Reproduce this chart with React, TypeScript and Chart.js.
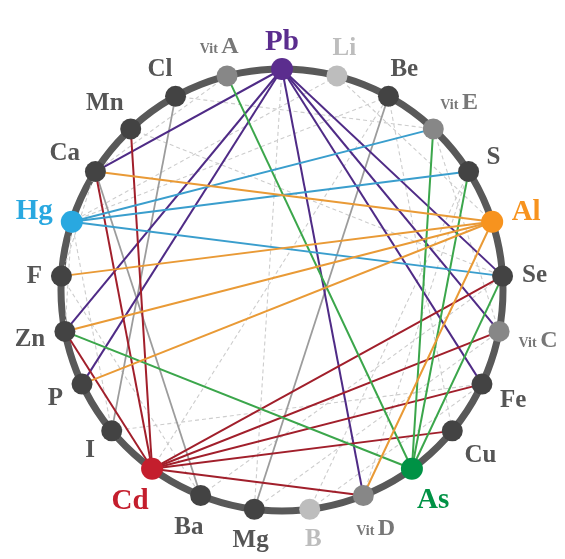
import { useEffect, useRef } from "react";
import { Chart, registerables } from "chart.js";

Chart.register(...registerables);

// Nodes clockwise from the top
const NODES = [
  "Pb", "Li", "Be", "VitE", "S", "Al", "Se", "VitC", "Fe", "Cu", "As", "VitD", "B",
  "Mg", "Ba", "Cd", "I", "P", "Zn", "F", "Hg", "Ca", "Mn", "Cl", "VitA",
];

const HUB_COLORS: Record<string, string> = {
  Pb: "#5b2d8e",
  Hg: "#29a8e0",
  Al: "#f7931e",
  Cd: "#c41e2d",
  As: "#009245",
};
const LINK_COLORS: Record<string, string> = {
  Pb: "#4f2b86",
  Hg: "#3a9ecd",
  Al: "#e99a36",
  Cd: "#a11f2b",
  As: "#3ba64b",
};
const LIGHT_NODES = ["Li", "B"];

const PB_LINKS = ["Ca", "Zn", "P", "VitD", "Fe", "VitC", "Se"];
const HG_LINKS = ["VitE", "S", "Se"];
const AL_LINKS = ["Ca", "F", "Zn", "P", "VitD"];
const CD_LINKS = ["Ca", "Mn", "Zn", "Se", "VitC", "Fe", "Cu", "VitD"];
const AS_LINKS = ["VitA", "VitE", "S", "Se", "Zn"];
const GRAY_LINKS: [string, string][] = [["Cl", "I"], ["Ca", "Ba"], ["Be", "Mg"]];
const DASHED_LINKS: [string, string][] = [
  ["Li", "Hg"], ["Li", "Al"], ["Pb", "Mg"], ["Cl", "VitE"], ["VitA", "Ca"],
  ["Be", "Hg"], ["Be", "Cu"], ["VitE", "VitC"], ["S", "B"], ["Mn", "Se"],
  ["Ca", "F"], ["Hg", "Zn"], ["Hg", "I"], ["F", "Ba"], ["Cd", "Be"],
  ["Ba", "Se"], ["Mg", "VitC"], ["B", "Fe"], ["VitD", "S"], ["I", "Fe"],
];

const CX = 282, CY = 290, R = 221, W = 565, H = 559;

function nodePos(name: string) {
  const a = (NODES.indexOf(name) * 2 * Math.PI) / NODES.length;
  return { x: Math.sin(a), y: Math.cos(a) };
}

function nodeColor(name: string) {
  if (HUB_COLORS[name]) return HUB_COLORS[name];
  if (LIGHT_NODES.includes(name)) return "#bdbdbd";
  if (name.startsWith("Vit")) return "#878787";
  return "#434343";
}

const FONT = "'Liberation Serif', 'Times New Roman', serif";

const ringPlugin = {
  id: "ring",
  beforeDatasetsDraw(chart: any) {
    const ctx = chart.ctx;
    const xs = chart.scales.x, ys = chart.scales.y;
    const cx = xs.getPixelForValue(0), cy = ys.getPixelForValue(0);
    const r = xs.getPixelForValue(1) - cx;
    ctx.save();
    ctx.beginPath();
    ctx.arc(cx, cy, r, 0, Math.PI * 2);
    ctx.strokeStyle = "#595959";
    ctx.lineWidth = 7;
    ctx.stroke();
    ctx.restore();
  },
};

const labelPlugin = {
  id: "labels",
  afterDatasetsDraw(chart: any) {
    const ctx = chart.ctx;
    const xs = chart.scales.x, ys = chart.scales.y;
    ctx.save();
    ctx.textBaseline = "alphabetic";
    ctx.textAlign = "left";
    NODES.forEach((name, i) => {
      const a = (i * 2 * Math.PI) / NODES.length;
      const dx = Math.sin(a), dy = -Math.cos(a);
      const p = nodePos(name);
      const px = xs.getPixelForValue(p.x), py = ys.getPixelForValue(p.y);
      const isHub = !!HUB_COLORS[name];
      const isVit = name.startsWith("Vit");
      let parts: { t: string; size: number }[];
      if (isVit) parts = [{ t: "Vit ", size: 14 }, { t: name.slice(3), size: 24 }];
      else parts = [{ t: name, size: isHub ? 29 : 25 }];
      let w = 0;
      const widths = parts.map((pt) => {
        ctx.font = `bold ${pt.size}px ${FONT}`;
        const m = ctx.measureText(pt.t).width;
        w += m;
        return m;
      });
      const maxSize = Math.max(...parts.map((pt) => pt.size));
      const h = maxSize * 0.66;
      const gap = 19;
      const off = gap + (w / 2) * Math.abs(dx) + (h / 2) * Math.abs(dy);
      const tcx = px + dx * off, tcy = py + dy * off;
      let x = tcx - w / 2;
      const base = tcy + h / 2;
      let color = "#555555";
      if (isHub) color = HUB_COLORS[name];
      else if (LIGHT_NODES.includes(name)) color = "#bdbdbd";
      else if (isVit) color = "#777777";
      ctx.fillStyle = color;
      parts.forEach((pt, k) => {
        ctx.font = `bold ${pt.size}px ${FONT}`;
        ctx.fillText(pt.t, x, base);
        x += widths[k];
      });
    });
    ctx.restore();
  },
};

export default function App() {
  const ref = useRef<HTMLCanvasElement | null>(null);

  useEffect(() => {
    if (!ref.current) return;
    const datasets: any[] = [];

    DASHED_LINKS.forEach(([a, b]) =>
      datasets.push({
        data: [nodePos(a), nodePos(b)],
        showLine: true,
        borderColor: "#cdcdcd",
        borderWidth: 1.1,
        borderDash: [4, 3],
        pointRadius: 0,
        order: 4,
      })
    );
    GRAY_LINKS.forEach(([a, b]) =>
      datasets.push({
        data: [nodePos(a), nodePos(b)],
        showLine: true,
        borderColor: "#9c9c9c",
        borderWidth: 1.8,
        pointRadius: 0,
        order: 3,
      })
    );
    const hubLinks: [string, string[]][] = [
      ["Al", AL_LINKS],
      ["Hg", HG_LINKS],
      ["As", AS_LINKS],
      ["Cd", CD_LINKS],
      ["Pb", PB_LINKS],
    ];
    hubLinks.forEach(([hub, list]) =>
      list.forEach((t) =>
        datasets.push({
          data: [nodePos(hub), nodePos(t)],
          showLine: true,
          borderColor: LINK_COLORS[hub],
          borderWidth: 2,
          pointRadius: 0,
          order: 2,
        })
      )
    );
    datasets.push({
      data: NODES.map(nodePos),
      showLine: false,
      pointRadius: NODES.map((n) => (HUB_COLORS[n] ? 11 : 10.5)),
      pointBackgroundColor: NODES.map(nodeColor),
      pointBorderWidth: 0,
      pointBorderColor: "rgba(0,0,0,0)",
      order: 0,
    });

    const chart = new Chart(ref.current, {
      type: "scatter",
      data: { datasets },
      options: {
        animation: false,
        responsive: true,
        maintainAspectRatio: false,
        layout: { padding: 0, autoPadding: false },
        events: [],
        plugins: { legend: { display: false }, tooltip: { enabled: false } },
        scales: {
          x: { type: "linear", display: false, min: -CX / R, max: (W - CX) / R },
          y: { type: "linear", display: false, min: -(H - CY) / R, max: CY / R },
        },
      },
      plugins: [ringPlugin, labelPlugin],
    });
    return () => chart.destroy();
  }, []);

  return (
    <div style={{ position: "absolute", left: 0, top: 0, width: W, height: H, background: "#ffffff" }}>
      <canvas ref={ref} />
    </div>
  );
}
